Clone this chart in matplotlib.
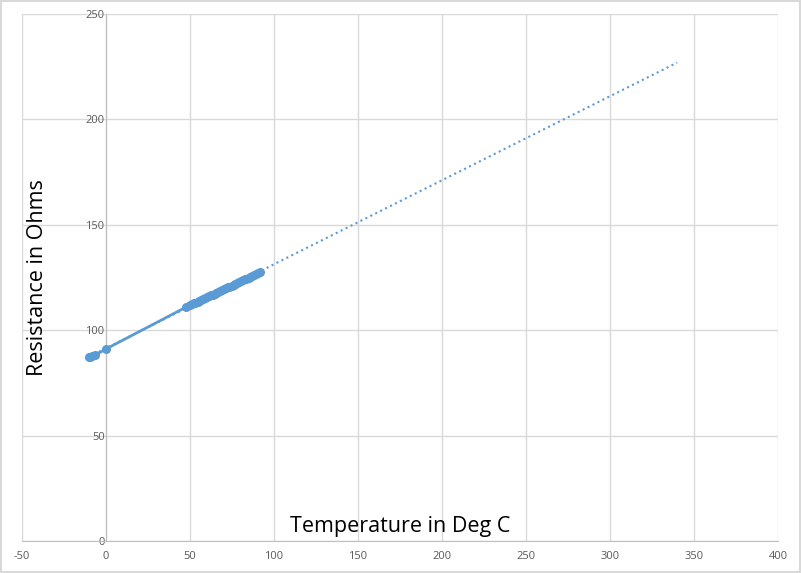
import numpy as np
import matplotlib
matplotlib.use('Agg')
import matplotlib.pyplot as plt

# readings: temperature (deg C) vs resistance (ohms)
temps = [-10.2, -9.4, -8.6, -6.4, 0.0, 47.8, 50.1, 51.3, 52.4, 53.2, 54.6, 55.5,
         56.8, 57.9, 59.0, 60.2, 61.1, 62.5, 63.4, 64.7, 65.6, 66.8, 68.0, 69.1,
         70.3, 71.2, 72.6, 73.5, 74.8, 75.9, 77.0, 78.2, 79.1, 80.5, 81.4, 82.7,
         83.6, 84.9, 86.0, 87.2, 88.1, 89.4, 90.5, 91.6]
ohms = [87.2, 87.4, 87.7, 88.2, 91.1, 111.0, 111.9, 112.3, 112.8, 113.0, 113.6, 113.9,
        114.4, 114.8, 115.2, 115.7, 116.0, 116.6, 116.9, 117.4, 117.7, 118.2, 118.6, 119.0,
        119.5, 119.8, 120.4, 120.7, 121.2, 121.6, 122.0, 122.5, 122.8, 123.3, 123.7, 124.2,
        124.5, 125.0, 125.4, 125.9, 126.2, 126.7, 127.1, 127.5]
trend_end = 340  # trendline forecast up to this temperature

xticks = list(range(-50, 401, 50))
yticks = list(range(0, 251, 50))

blue = '#5B9BD5'
grid_c = '#D9D9D9'
axis_c = '#BFBFBF'
label_c = '#595959'
plt.rcParams['font.family'] = ['Open Sans', 'DejaVu Sans']
plt.rcParams['axes.unicode_minus'] = False

fig = plt.figure(figsize=(8.01, 5.73), dpi=100)
ax = fig.add_axes([22 / 801, 32 / 573, 756 / 801, 527 / 573])

# linear trendline, dotted
slope, icpt = np.polyfit(temps, ohms, 1)
tx = np.array([min(temps), trend_end])
ax.plot(tx, slope * tx + icpt, linestyle=':', color=blue, linewidth=1.5, zorder=2)

ax.plot(temps, ohms, '-o', color=blue, linewidth=2, markersize=5.5, zorder=3)

ax.set_xlim(-50, 400)
ax.set_ylim(0, 250)
ax.set_xticks(xticks)
ax.set_yticks(yticks)
ax.grid(True, color=grid_c, linewidth=1)
ax.set_axisbelow(True)

for s in ['top', 'right']:
    ax.spines[s].set_visible(False)
ax.spines['left'].set_position(('data', 0))
ax.spines['left'].set_color(axis_c)
ax.spines['bottom'].set_color(axis_c)

ax.tick_params(axis='both', length=0, labelsize=8, labelcolor=label_c)
ax.tick_params(axis='x', pad=7)
ax.tick_params(axis='y', pad=1)

ax.text(0.5, 0.028, 'Temperature in Deg C', transform=ax.transAxes,
        ha='center', va='center', fontsize=15.5)
ax.text(0.02, 0.5, 'Resistance in Ohms', transform=ax.transAxes,
        ha='center', va='center', rotation=90, fontsize=15.5)

# light frame round the whole chart
fig.patches.append(plt.Rectangle((0.001, 0.001), 0.998, 0.997, transform=fig.transFigure,
                                 fill=False, edgecolor=grid_c, linewidth=1.5))

fig.savefig('out.png', dpi=100)
